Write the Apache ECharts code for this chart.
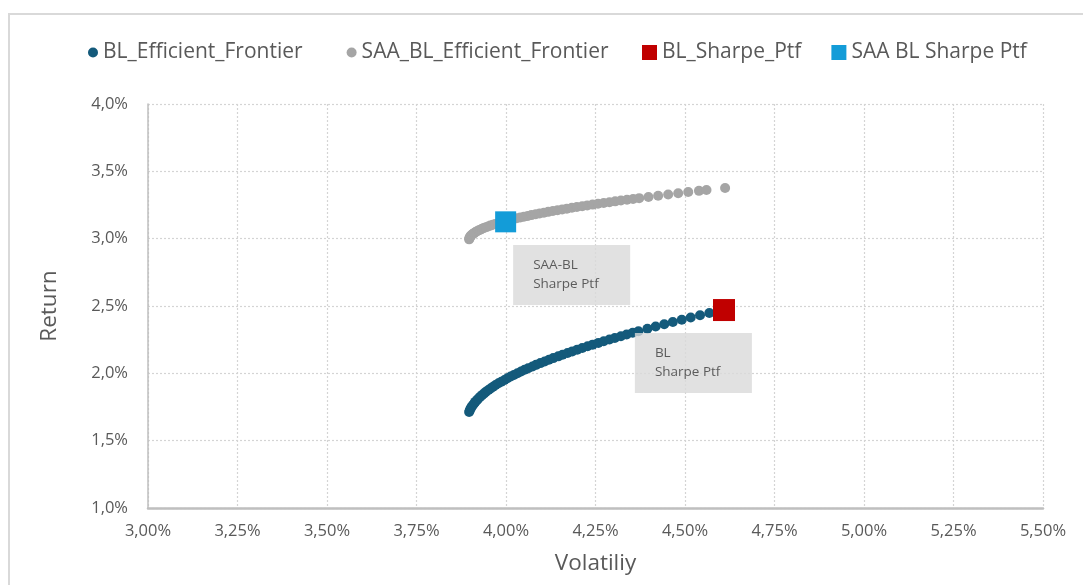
<!DOCTYPE html>
<html>
<head>
<meta charset="utf-8">
<script src="https://cdn.jsdelivr.net/npm/echarts@6/dist/echarts.min.js"></script>
<style>
  html, body { margin: 0; padding: 0; background: #ffffff; }
  #chart { width: 1083px; height: 585px; }
</style>
</head>
<body>
<div id="chart"></div>
<script>
// Efficient frontiers: volatility (%) and return (%) per portfolio
const blVol = [3.897, 3.899, 3.901, 3.904, 3.907, 3.911, 3.914, 3.919, 3.923, 3.928,
  3.933, 3.939, 3.944, 3.951, 3.957, 3.964, 3.971, 3.979, 3.987, 3.996,
  4.004, 4.013, 4.022, 4.032, 4.042, 4.052, 4.062, 4.074, 4.084, 4.096,
  4.108, 4.120, 4.132, 4.146, 4.158, 4.172, 4.185, 4.199, 4.213, 4.228,
  4.242, 4.258, 4.273, 4.289, 4.304, 4.321, 4.337, 4.354, 4.370,
  4.395, 4.418, 4.442, 4.466, 4.491, 4.516, 4.542, 4.568];
const blRet = [1.713, 1.726, 1.738, 1.751, 1.763, 1.776, 1.788, 1.801, 1.813, 1.826,
  1.838, 1.851, 1.863, 1.876, 1.888, 1.901, 1.913, 1.926, 1.938, 1.951,
  1.963, 1.976, 1.988, 2.001, 2.013, 2.026, 2.038, 2.051, 2.063, 2.076,
  2.088, 2.101, 2.113, 2.126, 2.138, 2.151, 2.163, 2.176, 2.188, 2.201,
  2.213, 2.226, 2.238, 2.251, 2.263, 2.276, 2.288, 2.301, 2.313,
  2.331, 2.348, 2.364, 2.381, 2.398, 2.414, 2.431, 2.448];

const saaVol = [3.897, 3.898, 3.898, 3.900, 3.901, 3.903, 3.906, 3.908, 3.912, 3.915,
  3.919, 3.923, 3.928, 3.933, 3.938, 3.944, 3.950, 3.956, 3.963, 3.970,
  3.978, 3.985, 3.994, 4.002, 4.011, 4.020, 4.030, 4.040, 4.050, 4.061,
  4.071, 4.083, 4.094, 4.106, 4.118, 4.131, 4.144, 4.157, 4.170, 4.184,
  4.198, 4.213, 4.227, 4.242, 4.257, 4.273, 4.289, 4.305, 4.321, 4.338,
  4.355, 4.372, 4.398, 4.425, 4.453, 4.481, 4.509, 4.539, 4.560, 4.612];
const saaRet = [2.995, 3.001, 3.007, 3.013, 3.019, 3.025, 3.031, 3.037, 3.043, 3.049,
  3.055, 3.061, 3.067, 3.073, 3.079, 3.085, 3.091, 3.097, 3.103, 3.109,
  3.115, 3.121, 3.127, 3.133, 3.139, 3.145, 3.151, 3.157, 3.163, 3.169,
  3.175, 3.181, 3.187, 3.193, 3.199, 3.205, 3.211, 3.217, 3.223, 3.229,
  3.235, 3.241, 3.247, 3.253, 3.259, 3.265, 3.271, 3.277, 3.283, 3.289,
  3.295, 3.301, 3.310, 3.319, 3.328, 3.337, 3.346, 3.355, 3.361, 3.376];

// Max-Sharpe portfolios [volatility, return]
const blSharpe = [4.609, 2.470];
const saaSharpe = [3.999, 3.125];

// Callout boxes: text and top-left anchor [volatility, return]
const noteTexts = ['SAA-BL\nSharpe Ptf', 'BL\nSharpe Ptf'];
const noteAnchors = [[4.020, 2.953], [4.360, 2.299]];

// Axis ranges and tick steps
const xMin = 3.0, xMax = 5.5, xStep = 0.25;
const yMin = 1.0, yMax = 4.0, yStep = 0.5;

const seriesNames = ['BL_Efficient_Frontier', 'SAA_BL_Efficient_Frontier', 'BL_Sharpe_Ptf', 'SAA BL Sharpe Ptf'];
const seriesColors = ['#145a7b', '#a5a5a5', '#c00000', '#139cd8'];

const zip = (a, b) => a.map((v, i) => [v, b[i]]);
const FONT = '"Open Sans", "DejaVu Sans", sans-serif';
const textGrey = '#595959';

const chart = echarts.init(document.getElementById('chart'), null, { renderer: 'canvas' });

const legendText = { color: textGrey, fontSize: 21, fontFamily: FONT };

const option = {
  animation: false,
  backgroundColor: '#ffffff',
  graphic: [{
    type: 'rect',
    shape: { x: 9, y: 14, width: 1100, height: 620 },
    style: { fill: 'none', stroke: '#d9d9d9', lineWidth: 2 },
    silent: true, z: -1
  }],
  legend: [{
    left: 88, top: 42, padding: 0,
    itemWidth: 10, itemHeight: 10, itemGap: 44,
    icon: 'circle',
    data: [seriesNames[0], seriesNames[1]],
    textStyle: legendText
  }, {
    left: 642, top: 42, padding: 0,
    itemWidth: 15, itemHeight: 15, itemGap: 30,
    icon: 'rect',
    data: [seriesNames[2], seriesNames[3]],
    textStyle: legendText
  }],
  grid: { left: 148, right: 40, top: 104, bottom: 77, containLabel: false },
  xAxis: {
    type: 'value', min: xMin, max: xMax, interval: xStep,
    name: 'Volatiliy', nameLocation: 'middle', nameGap: 44,
    nameTextStyle: { color: textGrey, fontSize: 22.5, fontFamily: FONT },
    axisLine: { show: true, lineStyle: { color: '#bfbfbf', width: 2.5 } },
    axisTick: { show: false },
    axisLabel: {
      color: textGrey, fontSize: 16.5, fontFamily: FONT, margin: 15,
      formatter: v => v.toFixed(2).replace('.', ',') + '%'
    },
    splitLine: { show: true, lineStyle: { color: '#d4d4d4', type: [2, 2], width: 1.2 } }
  },
  yAxis: {
    type: 'value', min: yMin, max: yMax, interval: yStep,
    name: 'Return', nameLocation: 'middle', nameGap: 87,
    nameTextStyle: { color: textGrey, fontSize: 22.5, fontFamily: FONT },
    axisLine: { show: true, lineStyle: { color: '#bfbfbf', width: 1.5 } },
    axisTick: { show: false },
    axisLabel: {
      color: textGrey, fontSize: 16.5, fontFamily: FONT, margin: 20,
      formatter: v => v.toFixed(1).replace('.', ',') + '%'
    },
    splitLine: { show: true, lineStyle: { color: '#d4d4d4', type: [2, 2], width: 1.2 } }
  },
  series: [{
    name: seriesNames[0], type: 'scatter', symbol: 'circle', symbolSize: 10,
    itemStyle: { color: seriesColors[0], opacity: 1 },
    data: zip(blVol, blRet), z: 3
  }, {
    name: seriesNames[1], type: 'scatter', symbol: 'circle', symbolSize: 10,
    itemStyle: { color: seriesColors[1], opacity: 1 },
    data: zip(saaVol, saaRet), z: 3
  }, {
    name: seriesNames[2], type: 'scatter', symbol: 'rect', symbolSize: 22,
    itemStyle: { color: seriesColors[2], opacity: 1 },
    data: [blSharpe], z: 5
  }, {
    name: seriesNames[3], type: 'scatter', symbol: 'rect', symbolSize: 21,
    itemStyle: { color: seriesColors[3], opacity: 1 },
    data: [saaSharpe], z: 5
  }, {
    name: 'notes', type: 'scatter', symbolSize: 0, silent: true, z: 6,
    data: noteAnchors.map((p, i) => ({ value: p, text: noteTexts[i] })),
    label: {
      show: true, position: [0, 0], align: 'left', verticalAlign: 'top',
      formatter: p => p.data.text,
      backgroundColor: '#d9d9d9',
      padding: [11, 20, 11, 20],
      width: 77, lineHeight: 19,
      color: '#3a3a3a', fontSize: 13.5, fontFamily: FONT
    }
  }]
};

chart.setOption(option);
</script>
</body>
</html>
